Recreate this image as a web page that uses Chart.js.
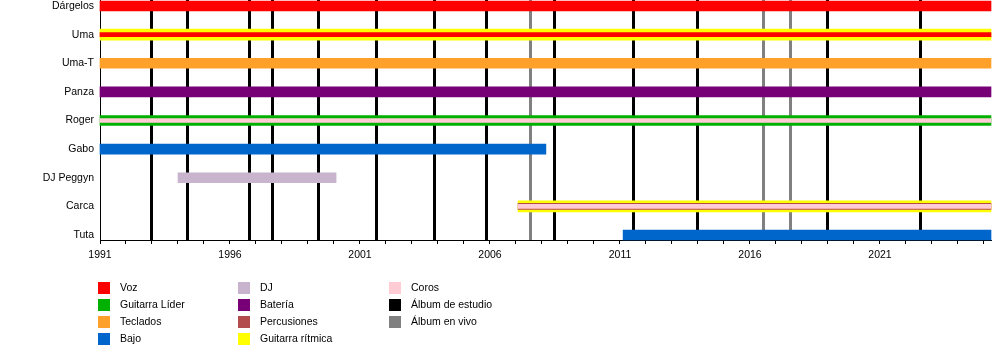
<!DOCTYPE html>
<html>
<head>
<meta charset="utf-8">
<script src="https://cdn.jsdelivr.net/npm/chart.js@4/dist/chart.umd.min.js"></script>
<style>
  html, body { margin: 0; padding: 0; background: #fff; }
  #wrap { position: relative; width: 1000px; height: 360px; }
</style>
</head>
<body>
<div id="wrap"><canvas id="timeline" width="1000" height="360"></canvas></div>
<script>
// Members, top to bottom
const members = ["Dárgelos", "Uma", "Uma-T", "Panza", "Roger", "Gabo", "DJ Peggyn", "Carca", "Tuta"];
const START = 1991;
const END = 2025.27;

// Periods per role: [memberIndex, from, to]
const voz = [[0, START, END]];
const vozCenter = [[1, START, END]];
const guitarraRitmica = [[1, START, END], [7, 2007.08, END]];
const guitarraLider = [[4, START, END]];
const teclados = [[2, START, END]];
const bateria = [[3, START, END]];
const bajo = [[5, START, 2008.15], [8, 2011.12, END]];
const dj = [[6, 1994.0, 2000.08]];
const percusiones = [[7, 2007.08, END]];
const coros = [[4, START, END], [7, 2007.08, END]];

// Album release dates
const studioAlbums = [1992.96, 1994.35, 1996.73, 1997.62, 1999.38, 2001.62, 2003.85, 2005.85,
  2008.46, 2011.5, 2013.96, 2018.96, 2022.54];
const liveAlbums = [2007.54, 2016.5, 2017.54];

// Legend
const legendLabels = ["Voz", "Guitarra Líder", "Teclados", "Bajo", "DJ", "Batería", "Percusiones",
  "Guitarra rítmica", "Coros", "Álbum de estudio", "Álbum en vivo"];
const legendColors = ["#ff0000", "#00b000", "#ffa02a", "#0066cc", "#c8b4cc", "#770077", "#b34d4d",
  "#ffff00", "#ffccd5", "#000000", "#808080"];

const FONT = "'Liberation Sans', Arial, sans-serif";

function rows(list) {
  return list.map(p => ({ x: [p[1], p[2]], y: p[0] }));
}

function layer(label, list, color, thickness) {
  return {
    label: label,
    data: rows(list),
    backgroundColor: color,
    barThickness: thickness,
    grouped: false,
    borderWidth: 0,
    borderSkipped: false,
    clip: false
  };
}

const albumLines = {
  id: 'albumLines',
  beforeDatasetsDraw(chart) {
    const { ctx, chartArea, scales } = chart;
    ctx.save();
    ctx.lineWidth = 3;
    const draw = (dates, color) => {
      ctx.strokeStyle = color;
      dates.forEach(d => {
        const x = Math.round(scales.x.getPixelForValue(d)) + 0.5;
        ctx.beginPath();
        ctx.moveTo(x, chartArea.top);
        ctx.lineTo(x, chartArea.bottom);
        ctx.stroke();
      });
    };
    draw(liveAlbums, "#808080");
    draw(studioAlbums, "#000000");
    ctx.restore();
  }
};

const legendBox = {
  id: 'legendBox',
  afterDraw(chart) {
    const { ctx } = chart;
    const cols = [[98, 120], [238, 260], [389, 411]];
    ctx.save();
    ctx.font = "10.5px " + FONT;
    ctx.textBaseline = "middle";
    legendLabels.forEach((lab, i) => {
      const c = cols[Math.floor(i / 4)];
      const y = 282 + (i % 4) * 17;
      ctx.fillStyle = legendColors[i];
      ctx.fillRect(c[0], y, 12, 12);
      ctx.fillStyle = "#000";
      ctx.fillText(lab, c[1], y + 6.5);
    });
    ctx.restore();
  }
};

// Chart.js draws the first dataset on top, so thin inner stripes come first
new Chart(document.getElementById("timeline"), {
  type: "bar",
  data: {
    datasets: [
      layer("Coros", coros, "#ffccd5", 4),
      layer("Voz", vozCenter, "#ff0000", 4),
      layer("Percusiones", percusiones, "#b34d4d", 6),
      layer("DJ", dj, "#c8b4cc", 10),
      layer("Bajo", bajo, "#0066cc", 10),
      layer("Batería", bateria, "#770077", 10),
      layer("Teclados", teclados, "#ffa02a", 10),
      layer("Guitarra Líder", guitarraLider, "#00b000", 10),
      layer("Guitarra rítmica", guitarraRitmica, "#ffff00", 11),
      layer("Voz", voz, "#ff0000", 10)
    ]
  },
  options: {
    indexAxis: "y",
    responsive: false,
    animation: false,
    layout: { padding: { left: 0, right: 9, top: 0, bottom: 90 } },
    plugins: { legend: { display: false }, tooltip: { enabled: false } },
    scales: {
      x: {
        type: "linear",
        min: START,
        max: END,
        afterFit: s => { s.height = 30; },
        border: { display: true, color: "#000", width: 1 },
        grid: { drawOnChartArea: false, color: "#000", tickLength: 4 },
        ticks: {
          stepSize: 1,
          includeBounds: false,
          autoSkip: false,
          maxRotation: 0,
          padding: 5,
          color: "#000",
          font: { family: FONT, size: 10.5 },
          callback: v => (Number.isInteger(v) && (v - START) % 5 === 0) ? String(v) : ""
        }
      },
      y: {
        type: "linear",
        reverse: true,
        offset: false,
        min: -0.21,
        max: 8.175,
        afterFit: s => { s.width = 100; s.paddingTop = 0; s.paddingBottom = 0; },
        border: { display: true, color: "#000", width: 1 },
        grid: { display: false, drawTicks: false, offset: false },
        ticks: {
          stepSize: 1,
          includeBounds: false,
          autoSkip: false,
          padding: 6,
          color: "#000",
          font: { family: FONT, size: 10.5 },
          callback: v => Number.isInteger(v) ? members[v] : ""
        }
      }
    }
  },
  plugins: [albumLines, legendBox]
});
</script>
</body>
</html>
